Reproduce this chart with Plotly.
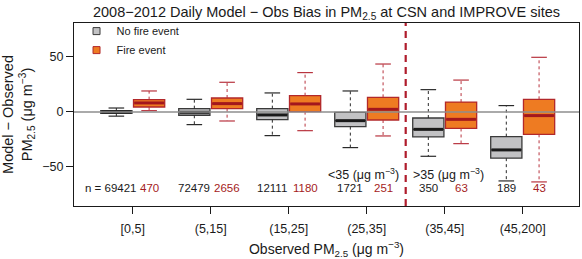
import plotly.graph_objects as go

categories = ["[0,5]", "(5,15]", "(15,25]", "(25,35]", "(35,45]", "(45,200]"]

# No fire event (gray)
nf_lower = [-3.8, -11.5, -21.5, -32.4, -40.3, -62.7]
nf_q1 = [-1.3, -3.0, -7.0, -13.3, -22.7, -42.0]
nf_med = [0.0, -0.3, -2.7, -7.9, -15.8, -34.5]
nf_q3 = [1.3, 3.0, 3.0, -0.3, -5.5, -22.4]
nf_upper = [3.6, 11.5, 17.3, 19.1, 20.3, 5.8]
nf_n = [69421, 72479, 12111, 1721, 350, 189]

# Fire event (orange)
f_lower = [1.2, -8.2, -17.0, -21.8, -28.8, -63.6]
f_q1 = [4.5, 3.0, 0.3, -7.3, -15.0, -20.3]
f_med = [8.2, 7.6, 7.3, 2.4, -6.7, -3.3]
f_q3 = [11.2, 12.7, 14.8, 13.3, 9.0, 11.5]
f_upper = [19.1, 27.0, 35.8, 43.6, 29.0, 49.7]
f_n = [470, 2656, 1180, 251, 63, 43]

yticks = [-50, 0, 50]
yticklabels = ["\u221250", "0", "50"]

FONT = "Liberation Sans, Arial, Helvetica, sans-serif"
OFF = 0.21
BW = 0.4
CAP = 0.1

series = [
    dict(name="No fire event", lower=nf_lower, q1=nf_q1, med=nf_med, q3=nf_q3, upper=nf_upper,
         n=nf_n, off=-OFF, fill="#c2c2c4", edge="#3a3a3a", medc="#1a1a1a", whisk="#2a2a2a",
         txt="#1a1a1a"),
    dict(name="Fire event", lower=f_lower, q1=f_q1, med=f_med, q3=f_q3, upper=f_upper,
         n=f_n, off=OFF, fill="#ee7b22", edge="#b2282a", medc="#a3171d", whisk="#b8343f",
         txt="#a51c22"),
]

fig = go.Figure()
idx = list(range(len(categories)))

for s in series:
    xs = [i + s["off"] for i in idx]
    wx, wy = [], []
    for x, lo, q1, q3, up in zip(xs, s["lower"], s["q1"], s["q3"], s["upper"]):
        wx += [x, x, None, x, x, None]
        wy += [q3, up, None, q1, lo, None]
    fig.add_trace(go.Scatter(x=wx, y=wy, mode="lines", showlegend=False, hoverinfo="skip",
                             line=dict(color=s["whisk"], width=1, dash="3px,3px")))
    cx, cy = [], []
    for x, lo, up in zip(xs, s["lower"], s["upper"]):
        cx += [x - CAP, x + CAP, None, x - CAP, x + CAP, None]
        cy += [up, up, None, lo, lo, None]
    fig.add_trace(go.Scatter(x=cx, y=cy, mode="lines", showlegend=False, hoverinfo="skip",
                             line=dict(color=s["whisk"], width=1.2)))
    fig.add_trace(go.Box(x=xs, q1=s["q1"], median=s["med"], q3=s["q3"],
                         lowerfence=s["q1"], upperfence=s["q3"], width=BW,
                         fillcolor=s["fill"], line=dict(color=s["edge"], width=1.3),
                         showlegend=False, hoverinfo="skip", boxpoints=False))
    mx, my = [], []
    for x, m in zip(xs, s["med"]):
        mx += [x - BW / 2 + 0.01, x + BW / 2 - 0.01, None]
        my += [m, m, None]
    fig.add_trace(go.Scatter(x=mx, y=my, mode="lines", showlegend=False, hoverinfo="skip",
                             line=dict(color=s["medc"], width=3)))
    fig.add_trace(go.Scatter(x=[None], y=[None], mode="markers", name=s["name"],
                             marker=dict(symbol="square", size=7, color=s["fill"],
                                         line=dict(color=s["edge"], width=1))))
    for k, (x, n) in enumerate(zip(xs, s["n"])):
        t = str(n)
        xshift = 0
        if k == 0 and s["name"] == "No fire event":
            t = "n = " + t
            xshift = -6
        fig.add_annotation(x=x, y=-69.4, text=t, showarrow=False, xshift=xshift,
                           font=dict(size=11.5, color=s["txt"], family=FONT))

fig.add_annotation(x=3.44, y=-56.6, text="<35 (\u03bcg m<sup>\u22123</sup>)", showarrow=False,
                   xanchor="right", font=dict(size=12.5, color="#1a1a1a", family=FONT))
fig.add_annotation(x=3.57, y=-56.6, text=">35 (\u03bcg m<sup>\u22123</sup>)", showarrow=False,
                   xanchor="left", font=dict(size=12.5, color="#1a1a1a", family=FONT))

fig.add_hline(y=0, line=dict(color="#8e8e8e", width=1.5), layer="above")
fig.add_vline(x=3.5, line=dict(color="#b01c2c", width=2.2, dash="7px,5px"), layer="above")

fig.update_layout(
    width=582, height=259,
    margin=dict(l=74, r=3, t=23, b=53, autoexpand=False),
    paper_bgcolor="white", plot_bgcolor="white",
    font=dict(family=FONT, color="#1a1a1a", size=12),
    title=dict(text="2008\u22122012 Daily Model \u2212 Obs Bias in PM<sub>2.5</sub> at CSN and IMPROVE sites",
               x=0.561, xanchor="center", y=0.955, yanchor="middle",
               font=dict(size=14.5, family=FONT, color="#1a1a1a")),
    legend=dict(x=0.005, y=1.035, xanchor="left", yanchor="top", bgcolor="rgba(0,0,0,0)",
                font=dict(size=11, family=FONT), itemwidth=30, tracegroupgap=0,
                itemsizing="trace"),
    showlegend=True,
)

fig.update_xaxes(range=[-0.753, 5.722], tickmode="array", tickvals=idx, ticktext=categories,
                 showgrid=False, zeroline=False, showline=True, linecolor="#1a1a1a", linewidth=1,
                 mirror=True, ticks="outside", ticklen=7, tickcolor="#1a1a1a", automargin=False,
                 ticklabelstandoff=4,
                 tickfont=dict(size=12.5, family=FONT),
                 title=dict(text="Observed PM<sub>2.5</sub> (\u03bcg m<sup>\u22123</sup>)",
                            font=dict(size=14, family=FONT), standoff=15))
fig.update_yaxes(range=[-85.5, 80.9], tickmode="array", tickvals=yticks, ticktext=yticklabels,
                 showgrid=False, zeroline=False, showline=True, linecolor="#1a1a1a", linewidth=1,
                 mirror=True, ticks="outside", ticklen=7, tickcolor="#1a1a1a", automargin=False,
                 tickfont=dict(size=12.5, family=FONT),
                 title=dict(text="Model \u2212 Observed<br>PM<sub>2.5</sub> (\u03bcg m<sup>\u22123</sup>)",
                            font=dict(size=14.5, family=FONT), standoff=10))

fig.write_html("out.html", config={"displayModeBar": False},
               post_script="document.body.style.margin='0px';")
